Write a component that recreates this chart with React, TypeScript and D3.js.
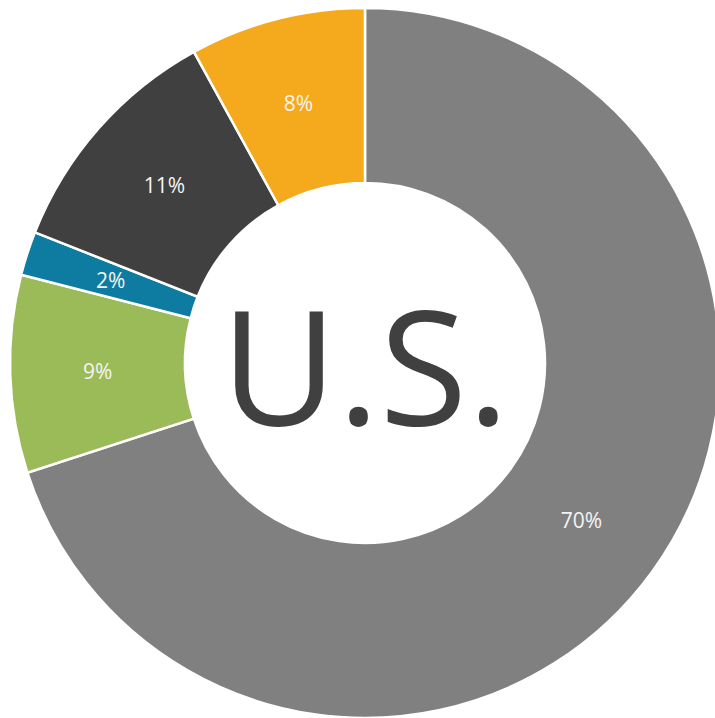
import { useEffect, useRef } from "react";
import * as d3 from "d3";

const categories = ["A", "B", "C", "D", "E"];
const values = [70, 9, 2, 11, 8];
const labels = ["70%", "9%", "2%", "11%", "8%"];
const colors = ["#808080", "#9BBB59", "#0E7CA0", "#404040", "#F4AA1C"];
const centerLabel = "U.S.";

export default function App() {
    const svgRef = useRef<SVGSVGElement>(null);

    useEffect(() => {
        const element = svgRef.current;
        if (!element) return;
        element.innerHTML = "";

        const width = 715;
        const height = 718;
        const cx = 365;
        const cy = 363;
        const outer = 355;
        const inner = 180;

        const data = categories.map((c, i) => ({ cat: c, value: values[i], label: labels[i] }));

        const color = d3.scaleOrdinal<string>().domain(categories).range(colors);

        const pie = d3.pie<any>().value(d => d.value).sort(null);
        const arc = d3.arc<any>().innerRadius(inner).outerRadius(outer);

        const svg = d3.select(element)
            .attr("width", width)
            .attr("height", height);

        const g = svg.append("g").attr("transform", `translate(${cx},${cy})`);

        const arcs = g.selectAll("g.arc")
            .data(pie(data))
            .enter()
            .append("g")
            .attr("class", "arc");

        arcs.append("path")
            .attr("d", arc)
            .attr("fill", d => color(d.data.cat))
            .attr("stroke", "#fff")
            .attr("stroke-width", 2.5);

        arcs.append("text")
            .attr("transform", d => `translate(${arc.centroid(d)})`)
            .attr("text-anchor", "middle")
            .attr("dy", "0.35em")
            .attr("fill", "#f4f4f4")
            .attr("font-family", "'Open Sans', sans-serif")
            .attr("font-size", 21)
            .text(d => d.data.label);

        g.append("text")
            .attr("text-anchor", "middle")
            .attr("y", 62)
            .attr("fill", "#404040")
            .attr("font-family", "'Open Sans', sans-serif")
            .attr("font-size", 160)
            .text(centerLabel);
    }, []);

    return (
        <svg ref={svgRef} style={{ position: "absolute", left: 0, top: 0, display: "block" }}></svg>
    );
}
